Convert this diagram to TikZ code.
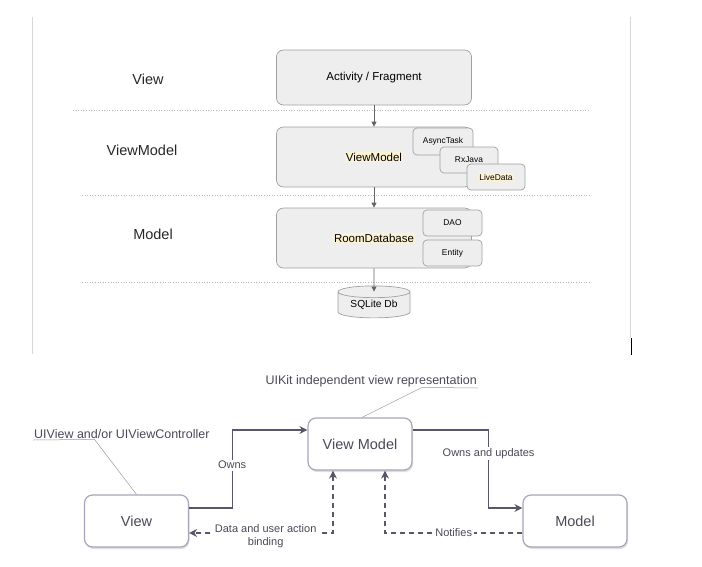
\documentclass[tikz,border=0pt]{standalone}
\usepackage{fontspec}
\setmainfont{Liberation Sans}
\usepackage{tikz}
\usetikzlibrary{shapes}
\usetikzlibrary{arrows.meta}
\usetikzlibrary{calc}
\usetikzlibrary{shadows}
\tikzset{node distance=2cm, auto}
\definecolor{lightergray}{RGB}{238,238,238}
\definecolor{boxgray}{RGB}{160,160,160}
\definecolor{hlyellow}{RGB}{253,243,212}
\definecolor{linegray}{RGB}{100,100,100}
\definecolor{dotgray}{RGB}{185,185,185}
\definecolor{framegray}{RGB}{215,215,215}
\definecolor{purplegray}{RGB}{168,165,186}
\definecolor{arrowgray}{RGB}{88,87,106}
\definecolor{textgray}{RGB}{74,73,88}
\newcommand{\hilite}[1]{{\setlength{\fboxsep}{1pt}\colorbox{hlyellow}{#1}}}
\tikzset{
  layerbox/.style={draw=boxgray, fill=lightergray, rounded corners=7pt, line width=0.7pt,
    minimum width=195pt, minimum height=55pt, inner sep=0pt, font=\fontsize{11.5}{13}\selectfont},
  smallbox/.style={draw=boxgray, fill=lightergray, rounded corners=4pt, line width=0.7pt,
    minimum width=58pt, minimum height=26pt, inner sep=0pt, font=\fontsize{8.4}{10}\selectfont},
  dbshape/.style={cylinder, shape border rotate=90, aspect=0.25, draw=boxgray, fill=lightergray,
    line width=0.7pt, minimum width=72pt, minimum height=32pt, inner sep=0pt,
    font=\fontsize{10.2}{12}\selectfont},
  layertext/.style={font=\fontsize{14.5}{16}\selectfont, text=black!85},
  layerline/.style={dotgray, dotted, line width=0.6pt},
  toparrow/.style={linegray, line width=0.8pt, -{Triangle[length=5pt,width=5pt]}},
  mvvmbox/.style={draw=purplegray, fill=white, rounded corners=8pt, line width=1.2pt,
    minimum width=104pt, minimum height=52pt, inner sep=0pt, text=textgray,
    font=\fontsize{14.5}{16}\selectfont,
    drop shadow={shadow xshift=1pt, shadow yshift=-2pt, opacity=0.25}},
  ownsarrow/.style={arrowgray, line width=1.2pt, -{Stealth[length=8pt,width=8pt]}},
  notifyarrow/.style={arrowgray, line width=1.2pt, dash pattern=on 5pt off 4pt},
  edgelabel/.style={anchor=center, fill=white, inner sep=1.5pt, text=textgray,
    font=\fontsize{11}{13}\selectfont},
  annot/.style={inner sep=1pt, text=textgray, font=\fontsize{12.5}{14}\selectfont},
  callout/.style={black!40, line width=0.5pt}
}

\begin{document}
\begin{tikzpicture}[x=1pt,y=-1pt]
\useasboundingbox (0,0) rectangle (702,566);

\draw[framegray, line width=1pt] (32,17) -- (32,354);
\draw[framegray, line width=1pt] (630,17) -- (630,338);
\draw[black, line width=1pt] (631,338) -- (631,355);

\draw[layerline] (73,110) -- (590,110);
\draw[layerline] (82,195) -- (590,195);
\draw[layerline] (82,282) -- (590,282);

\node[layertext] (viewlabel) at (148,79) {View};
\node[layertext] (vmlabel) at (142,150) {ViewModel};
\node[layertext] (modellabel) at (153,234) {Model};

\node[layerbox] (act) at (374,77.5) {Activity / Fragment};
\node[layerbox, minimum height=60pt] (vm) at (374,157) {\hilite{ViewModel}};
\node[smallbox, minimum width=60pt, minimum height=27pt] (async) at (443,141.5) {AsyncTask};
\node[smallbox] (rx) at (469,160) {RxJava};
\node[smallbox] (live) at (496,177) {\hilite{LiveData}};
\node[layerbox, minimum height=60pt] (room) at (374,238) {\hilite{RoomDatabase}};
\node[smallbox, minimum width=59pt] (dao) at (452.5,223) {DAO};
\node[smallbox, minimum width=59pt] (entity) at (452.5,253) {Entity};
\node[dbshape] (sqlite) at (374,305) {\raisebox{-4pt}{SQLite Db}};

\draw[toparrow] (act.south) -- (vm.north);
\draw[toparrow] (vm.south) -- (room.north);
\draw[toparrow] (room.south) -- ($(sqlite.north)+(0,6)$);

\node[mvvmbox] (view) at (136.5,521) {View};
\node[mvvmbox] (vmodel) at (360,444) {View Model};
\node[mvvmbox] (model) at (575,521) {Model};

\node[annot, anchor=south west] (uiv) at (33,440) {UIView and/or UIViewController};
\node[annot, anchor=south east] (uikit) at (478,388) {UIKit independent view representation};
\draw[callout] (view.north) -- ++(-42,-55) -- (uiv.south west);
\draw[callout] ([xshift=2pt]vmodel.north) -- ++(60,-30) -- (uikit.south east);

\draw[ownsarrow] ([yshift=13pt]view.east) -- ++(43,0)
  |- node[edgelabel, pos=0.275] {Owns} ([yshift=14pt]vmodel.west);
\draw[ownsarrow] ([yshift=14pt]vmodel.east) -- ++(76,0)
  |- node[edgelabel, pos=0.15] {Owns and updates} ([yshift=13pt]model.west);
\draw[notifyarrow, {Stealth[length=8pt,width=8pt]}-{Stealth[length=8pt,width=8pt]}]
  ([xshift=-27pt]vmodel.south) |- node[edgelabel, pos=0.734, align=center, yshift=-3pt]
  {Data and user action\\binding} ([yshift=-12pt]view.east);
\draw[notifyarrow, -{Stealth[length=8pt,width=8pt]}] ([yshift=-12pt]model.west)
  -| node[edgelabel, pos=0.25] {Notifies} ([xshift=25pt]vmodel.south);

\end{tikzpicture}
\end{document}
